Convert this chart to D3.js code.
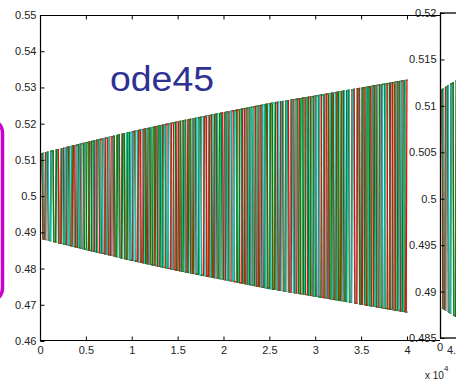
<!DOCTYPE html>
<html><head><meta charset="utf-8">
<script src="https://cdn.jsdelivr.net/npm/d3@7"></script>
<style>
html,body{margin:0;padding:0;background:#fff;}
svg{display:block;}
text{font-family:"Liberation Sans",Arial,sans-serif;}
</style></head>
<body>
<script>
// ---- data ----
const xTicks = [0,0.5,1,1.5,2,2.5,3,3.5,4];
const xTickLabels = ["0","0.5","1","1.5","2","2.5","3","3.5","4"];
const yTicks = [0.46,0.47,0.48,0.49,0.50,0.51,0.52,0.53,0.54,0.55];
const yTickLabels = ["0.46","0.47","0.48","0.49","0.5","0.51","0.52","0.53","0.54","0.55"];
const y2Ticks = [0.485,0.49,0.495,0.50,0.505,0.51,0.515,0.52];
const y2TickLabels = ["0.485","0.49","0.495","0.5","0.505","0.51","0.515","0.52"];
// envelope of the oscillation (x in units of 1e4)
const envT = [0,0.5,1,1.5,2,2.5,3,3.5,4];
const envUpper = [0.5116,0.5147,0.5177,0.5205,0.5230,0.5255,0.5276,0.5298,0.5320];
const envLower = [0.4884,0.4853,0.4823,0.4795,0.4770,0.4745,0.4724,0.4702,0.4680];
const seriesNames = ["red","green","cyan"];
const seriesColors = ["#ff0000","#008000","#10c0c0"];
const seriesCycles = [67,72,78];      // estimated oscillation counts
const seriesPhase = [0.0,0.45,0.8];  // estimated starting offsets (half-cycles)

const W=456,H=382;
const svg=d3.select("body").append("svg").attr("width",W).attr("height",H);

const x=d3.scaleLinear().domain([0,4.36]).range([40,440]);
const y=d3.scaleLinear().domain([0.46,0.55]).range([341,15]);
const x2=d3.scaleLinear().domain([0,4.36]).range([440,840]);
const y2=d3.scaleLinear().domain([0.485,0.52]).range([338,13]);

const up=d3.scaleLinear().domain(envT).range(envUpper);
const lo=d3.scaleLinear().domain(envT).range(envLower);

// near-vertical swings between the read envelopes
function seriesData(k){
  const n=seriesCycles[k]*2, pts=[];
  const hold=0.72*4/n;
  for(let i=0;i<=n;i++){
    const t0=Math.min(4,(i+seriesPhase[k])/n*4);
    const f=(i%2===0)?up:lo;
    pts.push([t0,f(t0)]);
    const t1=Math.min(4,t0+hold);
    pts.push([t1,f(t1)]);
    if(t1>=4) break;
  }
  return [[0,(up(0)+lo(0))/2]].concat(pts);
}
const allData=seriesNames.map((n,k)=>seriesData(k));

// split into segments and draw in time order so no series hides the others
const segs=[];
allData.forEach((d,k)=>{for(let i=0;i<d.length-1;i++) segs.push({a:d[i],b:d[i+1],k});});
segs.sort((p,q)=>p.a[0]-q.a[0]||p.k-q.k);

const defs=svg.append("defs");
defs.append("clipPath").attr("id","c1").append("rect").attr("x",40).attr("y",15).attr("width",400).attr("height",326);
defs.append("clipPath").attr("id","c2").append("rect").attr("x",440).attr("y",13).attr("width",30).attr("height",325);

function drawSegs(g,sx,sy,list){
  g.selectAll("line").data(list).join("line")
    .attr("x1",s=>sx(s.a[0])).attr("y1",s=>sy(s.a[1]))
    .attr("x2",s=>sx(s.b[0])).attr("y2",s=>sy(s.b[1]))
    .attr("stroke",s=>seriesColors[s.k]).attr("stroke-width",1.2).attr("stroke-linecap","square");
}
// main data
const g1=svg.append("g").attr("clip-path","url(#c1)");
drawSegs(g1,x,y,segs);

// main axes box
const box=svg.append("g").attr("stroke","#000").attr("stroke-width",1.2).attr("fill","none");
box.append("line").attr("x1",40.5).attr("x2",40.5).attr("y1",15).attr("y2",341.5);
box.append("line").attr("x1",40).attr("x2",440).attr("y1",15.5).attr("y2",15.5);
box.append("line").attr("x1",40).attr("x2",440).attr("y1",340.5).attr("y2",340.5);

const yAx=svg.append("g").attr("transform","translate(40.5,0)")
  .call(d3.axisLeft(y).tickValues(yTicks).tickFormat((d,i)=>yTickLabels[i]).tickSize(-4).tickSizeOuter(0).tickPadding(4));
const xAx=svg.append("g").attr("transform","translate(0,340.5)")
  .call(d3.axisBottom(x).tickValues(xTicks).tickFormat((d,i)=>xTickLabels[i]).tickSize(-4).tickSizeOuter(0).tickPadding(6));
const xTop=svg.append("g").attr("transform","translate(0,15.5)")
  .call(d3.axisTop(x).tickValues(xTicks).tickFormat("").tickSize(-4).tickSizeOuter(0));
[yAx,xAx,xTop].forEach(a=>{a.select(".domain").remove();a.selectAll("line").attr("stroke","#000");
  a.selectAll("text").attr("font-size",11).attr("fill","#222").attr("font-family","Liberation Sans, Arial, sans-serif");});

// second axes
svg.append("rect").attr("x",440).attr("y",13).attr("width",20).attr("height",325).attr("fill","#fff");
const g2=svg.append("g").attr("clip-path","url(#c2)");
drawSegs(g2,x2,y2,segs.filter(s=>s.a[0]<0.3));
const box2=svg.append("g").attr("stroke","#000").attr("stroke-width",1.3);
box2.append("line").attr("x1",440.5).attr("x2",440.5).attr("y1",12.5).attr("y2",338.5);
box2.append("line").attr("x1",440).attr("x2",456).attr("y1",13).attr("y2",13);
box2.append("line").attr("x1",440).attr("x2",456).attr("y1",338).attr("y2",338);
const y2Ax=svg.append("g").attr("transform","translate(440.5,0)")
  .call(d3.axisLeft(y2).tickValues(y2Ticks).tickFormat((d,i)=>y2TickLabels[i]).tickSize(-4).tickSizeOuter(0).tickPadding(4));
y2Ax.select(".domain").remove();
y2Ax.selectAll("line").attr("stroke","#000");
y2Ax.selectAll("text").attr("font-size",11).attr("fill","#222");

// second axes partial x labels
svg.append("text").attr("x",440).attr("y",351).attr("text-anchor","middle").attr("font-size",11).attr("fill","#222").text("0");
svg.append("text").attr("x",447).attr("y",354).attr("font-size",11).attr("fill","#222").text("4.");

// exponent label
const ex=svg.append("text").attr("x",425).attr("y",379).attr("font-size",10).attr("fill","#222");
ex.append("tspan").text("x 10");
ex.append("tspan").attr("dy",-8).attr("font-size",8).text("4");

// annotation
svg.append("text").attr("x",110).attr("y",91).attr("font-size",35).attr("textLength",104)
  .attr("lengthAdjust","spacingAndGlyphs").attr("fill","#2e3192")
  .attr("font-family","DejaVu Sans, sans-serif").text("ode45");

// magenta rounded box at left edge
svg.append("rect").attr("x",-40).attr("y",119).attr("width",42.5).attr("height",183).attr("rx",14)
  .attr("fill","none").attr("stroke","#cc00cc").attr("stroke-width",3.5);
</script>
</body></html>
